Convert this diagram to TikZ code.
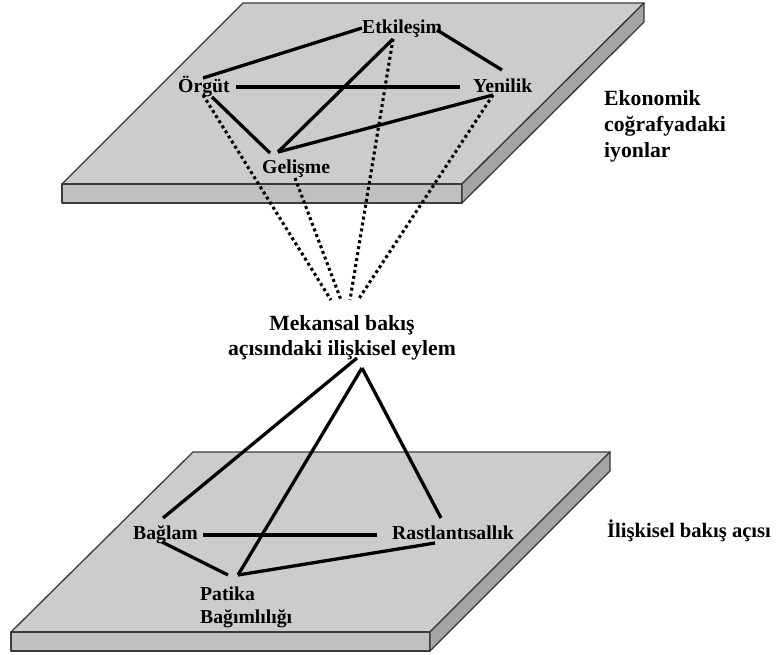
\documentclass[tikz,border=0pt]{standalone}
\usepackage{fontspec}
\setmainfont{Liberation Serif}
\definecolor{platetop}{HTML}{CCCCCC}
\definecolor{platefront}{HTML}{C0C0C0}
\definecolor{plateside}{HTML}{A4A4A4}
\definecolor{plateedge}{HTML}{3A3A3A}
\tikzset{
  lbl/.style={font=\fontsize{19.7}{23}\selectfont\bfseries, inner sep=0pt, anchor=base west},
  big/.style={font=\fontsize{21.7}{26}\selectfont\bfseries, inner sep=0pt, anchor=base west},
  midtxt/.style={font=\fontsize{21.7}{26}\selectfont\bfseries, inner sep=0pt, anchor=base},
  link/.style={line width=3.3pt},
  heavy/.style={line width=4.6pt},
  proj/.style={line width=3.1pt, dash pattern=on 3pt off 3pt},
  face/.style={draw=plateedge, line width=1.3pt, line join=round},
}
\begin{document}
\begin{tikzpicture}[x=1pt,y=-1pt]
\useasboundingbox (0,0) rectangle (776,654);

% upper plate
\filldraw[face, fill=platetop]   (243,3) -- (644,3) -- (462,184) -- (62,184) -- cycle;
\filldraw[face, fill=platefront] (62,184) -- (462,184) -- (462,203) -- (62,203) -- cycle;
\filldraw[face, fill=plateside]  (462,184) -- (644,3) -- (644,22) -- (462,203) -- cycle;

% lower plate
\filldraw[face, fill=platetop]   (193,452) -- (610,452) -- (430,632) -- (11,632) -- cycle;
\filldraw[face, fill=platefront] (11,632) -- (430,632) -- (430,651) -- (11,651) -- cycle;
\filldraw[face, fill=plateside]  (430,632) -- (610,452) -- (610,471) -- (430,651) -- cycle;

% labels on the upper plate
\node[lbl] (etk) at (362,33)  {Etkileşim};
\node[lbl] (org) at (178,92)  {Örgüt};
\node[lbl] (yen) at (473,92)  {Yenilik};
\node[lbl] (gel) at (262,173) {Gelişme};

% labels on the lower plate
\node[lbl] (bag)  at (133,539) {Bağlam};
\node[lbl] (ras)  at (392,539) {Rastlantısallık};
\node[lbl] (pat)  at (200,600) {Patika};
\node[lbl] (patb) at (200,623) {Bağımlılığı};

% central statement
\node[midtxt] (mid)  at (342,330) {Mekansal bakış};
\node[midtxt] (midb) at (342,355) {açısındaki ilişkisel eylem};

% side captions
\node[big] (eko1) at (604,105) {Ekonomik};
\node[big] (eko2) at (604,131) {coğrafyadaki};
\node[big] (eko3) at (604,157) {iyonlar};
\node[font=\fontsize{20.6}{25}\selectfont\bfseries, inner sep=0pt, anchor=base west] (ilis) at (607,537) {İlişkisel bakış açısı};

% connection points
\coordinate (etkW) at (362,28);
\coordinate (etkE) at (437,30);
\coordinate (etkS) at (393,39);
\coordinate (orgN) at (203,78);
\coordinate (orgE) at (236,87);
\coordinate (orgS) at (203,95);
\coordinate (orgSE) at (212,97);
\coordinate (yenN) at (502,70);
\coordinate (yenW) at (460,87);
\coordinate (yenS) at (493,95);
\coordinate (gelN) at (278,152);
\coordinate (gelNW) at (270,153);
\coordinate (gelS) at (295,178);
\coordinate (focA) at (331,300);
\coordinate (focB) at (341,300);
\coordinate (focC) at (350,300);
\coordinate (focD) at (358,300);
\coordinate (midL) at (357,358);
\coordinate (midR) at (362,368);
\coordinate (bagN) at (163,518);
\coordinate (bagE) at (203,535);
\coordinate (bagS) at (162,542);
\coordinate (rasW) at (377,535);
\coordinate (rasN) at (441,518);
\coordinate (rasS) at (435,543);
\coordinate (patN) at (238,575);
\coordinate (patNW) at (228,575);

% links between the upper concepts
\draw[link] (orgN) -- (etkW);
\draw[link] (etkE) -- (yenN);
\draw[heavy] (orgE) -- (yenW);
\draw[link] (orgSE) -- (gelNW);
\draw[link] (gelN) -- (etkS);
\draw[link] (gelN) -- (yenS);

% projections towards the central statement
\draw[proj] (orgS) -- (focA);
\draw[proj] (gelS) -- (focB);
\draw[proj] (etkS) -- (focC);
\draw[proj] (yenS) -- (focD);

% links from the central statement to the lower concepts
\draw[link] (midL) -- (bagN);
\draw[link] (midR) -- (patN);
\draw[link] (midR) -- (rasN);

% links between the lower concepts
\draw[heavy] (bagE) -- (rasW);
\draw[link] (bagS) -- (patNW);
\draw[link] (patN) -- (rasS);
\end{tikzpicture}
\end{document}
